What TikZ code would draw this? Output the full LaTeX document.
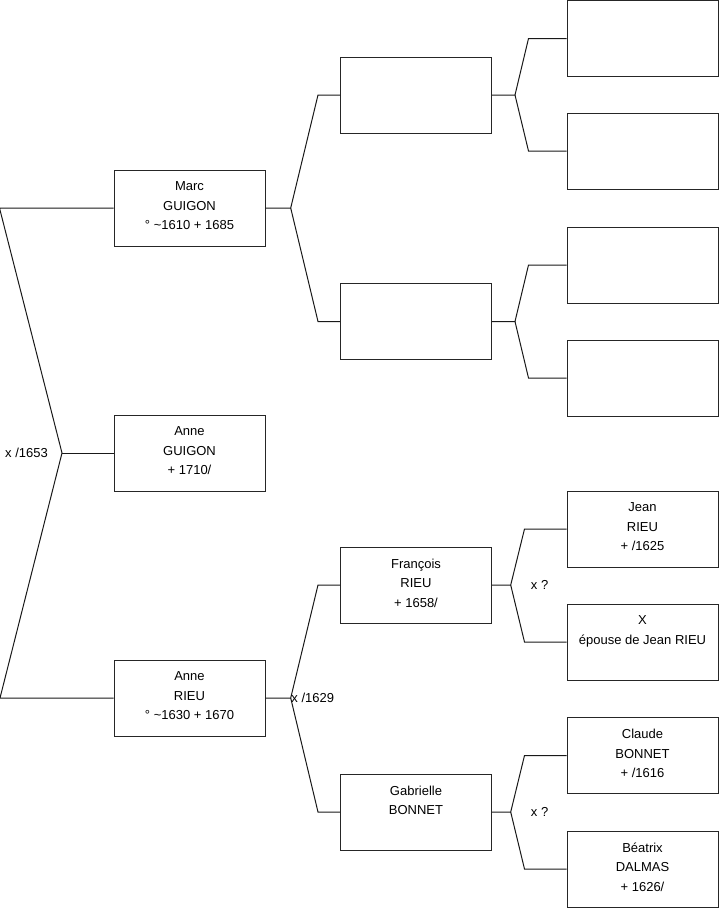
\documentclass[tikz,border=0pt]{standalone}
\usepackage{fontspec}
\setmainfont{Liberation Sans}
\usetikzlibrary{positioning}

\begin{document}
\begin{tikzpicture}[x=1pt, y=-1pt,
  person/.style={draw=black!85, line width=1pt, minimum width=151pt, minimum height=76pt, inner sep=0pt},
  info/.style={align=center, inner sep=0pt, font=\fontsize{13}{19.6}\selectfont},
  fork/.style={draw=black!90, line width=1pt},
  union/.style={inner sep=0pt, font=\fontsize{13}{15}\selectfont}
]
\useasboundingbox (0,0) rectangle (719,908);

% generation 1
\node[person] (marc)   at (189.5,208) {};
\node[person] (anneg)  at (189.5,453) {};
\node[person] (anner)  at (189.5,698) {};
% generation 2
\node[person] (pa)     at (416,95)    {};
\node[person] (pb)     at (416,321.5) {};
\node[person] (franc)  at (416,585)   {};
\node[person] (gabr)   at (416,812)   {};
% generation 3
\node[person] (ga)     at (642.5,38.5) {};
\node[person] (gb)     at (642.5,151)  {};
\node[person] (gc)     at (642.5,265)  {};
\node[person] (gd)     at (642.5,378)  {};
\node[person] (jean)   at (642.5,529)  {};
\node[person] (xrieu)  at (642.5,642)  {};
\node[person] (claude) at (642.5,755.5){};
\node[person] (beat)   at (642.5,869)  {};

% texts
\node[info, below=12pt of marc.north]   {Marc\\GUIGON\\° \textasciitilde1610 + 1685};
\node[info, below=12pt of anneg.north]  {Anne\\GUIGON\\+ 1710/};
\node[info, below=12pt of anner.north]  {Anne\\RIEU\\° \textasciitilde1630 + 1670};
\node[info, below=12pt of franc.north]  {François\\RIEU\\+ 1658/};
\node[info, below=12pt of gabr.north]   {Gabrielle\\BONNET};
\node[info, below=12pt of jean.north]   {Jean\\RIEU\\+ /1625};
\node[info, below=12pt of xrieu.north]  {X\\épouse de Jean RIEU};
\node[info, below=12pt of claude.north] {Claude\\BONNET\\+ /1616};
\node[info, below=12pt of beat.north]   {Béatrix\\DALMAS\\+ 1626/};

% fork points
\coordinate (v0) at (62,453);
\coordinate (v1) at (290.7,208);
\coordinate (v2) at (290.7,698);
\coordinate (v3) at (515,95);
\coordinate (v4) at (515,321.5);
\coordinate (v5) at (510.7,585);
\coordinate (v6) at (510.7,812);

\draw[fork] (marc.west) -- +(-114,0) -- (v0) -- +(-62,245) -- (anner.west);
\draw[fork] (v0) -- (anneg.west);
\draw[fork] (pa.west) -- +(-22,0) -- (v1) -- (marc.east);
\draw[fork] (pb.west) -- +(-22,0) -- (v1);
\draw[fork] (franc.west) -- +(-22,0) -- (v2) -- (anner.east);
\draw[fork] (gabr.west) -- +(-22,0) -- (v2);
\draw[fork] (ga.west) -- +(-38,0) -- (v3) -- (pa.east);
\draw[fork] (gb.west) -- +(-38,0) -- (v3);
\draw[fork] (gc.west) -- +(-38,0) -- (v4) -- (pb.east);
\draw[fork] (gd.west) -- +(-38,0) -- (v4);
\draw[fork] (jean.west) -- +(-42,0) -- (v5) -- (franc.east);
\draw[fork] (xrieu.west) -- +(-42,0) -- (v5);
\draw[fork] (claude.west) -- +(-42,0) -- (v6) -- (gabr.east);
\draw[fork] (beat.west) -- +(-42,0) -- (v6);

% marriages
\node[union, left=14pt of v0]  {x /1653};
\node[union, right=0.5pt of v2] {x /1629};
\node[union, right=20pt of v5] {x ?};
\node[union, right=20pt of v6] {x ?};
\end{tikzpicture}
\end{document}
